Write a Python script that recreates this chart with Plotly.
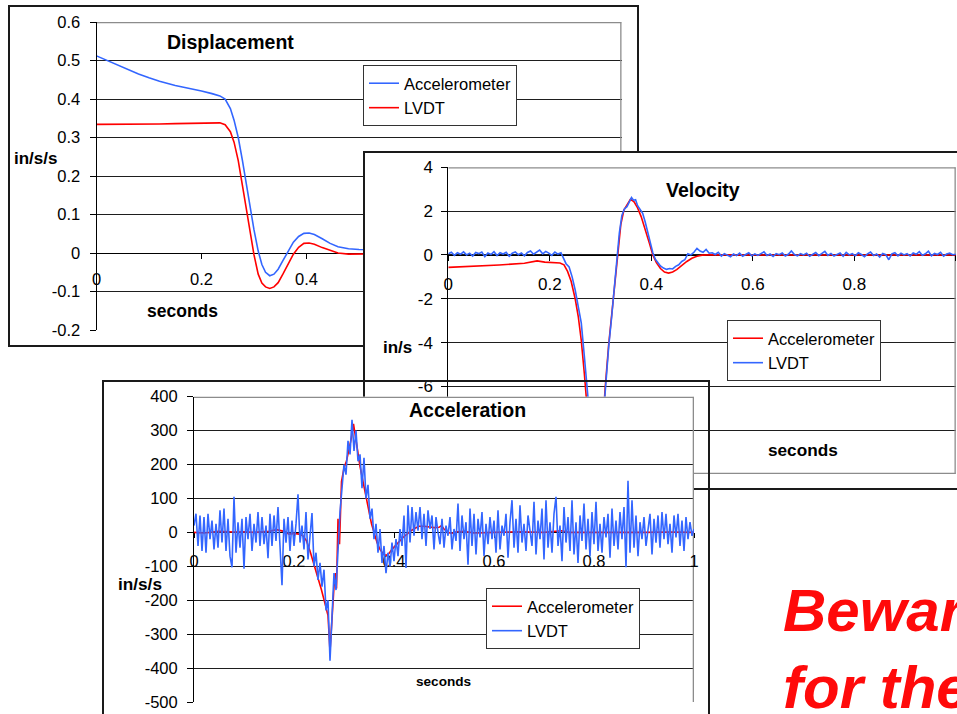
import plotly.graph_objects as go

W, H = 957, 714
FONT = "Liberation Sans, Arial, Helvetica, sans-serif"
RED = "#ff0000"
BLUE = "#3366ff"
GRID = "#1e1e1e"
FRAME = "#8c8c8c"
BOX = "#1a1a1a"

# ---------------- shared x ticks ----------------
x_ticks = [0, 0.2, 0.4, 0.6, 0.8, 1]
x_ticklabels = ["0", "0.2", "0.4", "0.6", "0.8", "1"]

# ---------------- Displacement panel ----------------
disp_t = [0, 0.02, 0.05, 0.08, 0.1, 0.12, 0.15, 0.18, 0.2, 0.22, 0.235, 0.245, 0.255,
          0.262, 0.27, 0.278, 0.285, 0.292, 0.3, 0.308, 0.315, 0.322, 0.33, 0.338, 0.346,
          0.355, 0.365, 0.375, 0.385, 0.395, 0.405, 0.415, 0.43, 0.445, 0.46, 0.48, 0.5,
          0.55, 0.6, 0.7, 0.8, 0.9, 1.0]
disp_accel = [0.512, 0.500, 0.482, 0.465, 0.455, 0.446, 0.435, 0.427, 0.421, 0.414, 0.408,
              0.400, 0.375, 0.345, 0.300, 0.240, 0.180, 0.120, 0.060, 0.005, -0.030, -0.050,
              -0.059, -0.055, -0.042, -0.020, 0.005, 0.028, 0.043, 0.051, 0.052, 0.048,
              0.037, 0.025, 0.016, 0.011, 0.009, 0.008, 0.008, 0.008, 0.008, 0.008, 0.008]
disp_lvdt = [0.334, 0.334, 0.334, 0.335, 0.335, 0.335, 0.336, 0.337, 0.338, 0.339, 0.338,
             0.333, 0.315, 0.288, 0.240, 0.175, 0.115, 0.055, -0.005, -0.055, -0.078, -0.088,
             -0.092, -0.088, -0.077, -0.055, -0.028, -0.003, 0.015, 0.025, 0.026, 0.023,
             0.014, 0.006, 0.000, -0.003, -0.003, -0.002, -0.001, 0.0, 0.0, 0.0, 0.0]
disp_range = [-0.2, 0.6]
disp_yticks = [0.6, 0.5, 0.4, 0.3, 0.2, 0.1, 0, -0.1, -0.2]
disp_yticklabels = ["0.6", "0.5", "0.4", "0.3", "0.2", "0.1", "0", "-0.1", "-0.2"]

# ---------------- Velocity panel ----------------
vel_accel_t = [0, 0.05, 0.1, 0.15, 0.175, 0.19, 0.22, 0.228, 0.235, 0.242, 0.25, 0.256, 0.262,
               0.268, 0.275, 0.282, 0.289, 0.296, 0.303, 0.309, 0.316, 0.322, 0.328, 0.334,
               0.34, 0.346, 0.352, 0.359, 0.366, 0.373, 0.38, 0.388, 0.396, 0.403, 0.41,
               0.418, 0.426, 0.434, 0.442, 0.45, 0.46, 0.47, 0.48, 0.49, 0.5, 0.52, 0.6,
               0.7, 0.8, 0.9, 1.0]
vel_accel = [-0.57, -0.52, -0.46, -0.38, -0.27, -0.33, -0.37, -0.45, -0.75, -1.2, -2.0, -2.8,
             -3.9, -5.4, -7.5, -9.4, -10.3, -9.8, -8.3, -6.1, -4.1, -2.7, -1.2, 0.2, 1.4,
             2.05, 2.3, 2.55, 2.42, 2.15, 1.75, 1.2, 0.55, 0.0, -0.35, -0.62, -0.78, -0.83,
             -0.78, -0.67, -0.48, -0.3, -0.15, -0.06, -0.01, 0.01, 0.0, 0.0, 0.01, 0.0, 0.0]

VEL_DT = 0.006
vel_lvdt_pre = [0.05, 0.12, -0.02, 0.10, 0.03, 0.14, 0.00, 0.08, -0.05, 0.11,
                0.06, 0.13, -0.08, 0.09, 0.02, 0.15, -0.03, 0.10, 0.04, 0.12,
                -0.06, 0.08, 0.14, 0.01, 0.09, -0.04, 0.11, 0.18, 0.03, 0.12,
                0.22, 0.05, 0.16, 0.08, -0.02, 0.13, 0.04, 0.10]
vel_lvdt_event_t = [0.226, 0.232, 0.238, 0.244, 0.25, 0.256, 0.262, 0.268, 0.274, 0.28,
                    0.287, 0.293, 0.299, 0.305, 0.31, 0.316, 0.322, 0.327, 0.332, 0.337,
                    0.342, 0.347, 0.352, 0.357, 0.361, 0.365, 0.369, 0.373, 0.378, 0.383,
                    0.388, 0.393, 0.398, 0.403, 0.408, 0.413, 0.418, 0.424, 0.43, 0.436,
                    0.442, 0.448, 0.454, 0.46, 0.466, 0.472, 0.478, 0.484, 0.49, 0.496,
                    0.502, 0.508, 0.514]
vel_lvdt_event = [-0.1, -0.4, -0.55, -1.0, -1.6, -2.4, -3.1, -4.6, -6.3, -8.0,
                  -9.6, -10.2, -9.5, -7.5, -5.8, -4.2, -2.8, -1.4, -0.2, 1.0,
                  1.8, 2.1, 2.2, 2.45, 2.62, 2.5, 2.52, 2.25, 2.1, 1.9,
                  1.5, 1.05, 0.55, 0.1, -0.2, -0.38, -0.5, -0.6, -0.66, -0.62,
                  -0.64, -0.52, -0.45, -0.3, -0.22, 0.05, 0.0, 0.12, 0.3, 0.18,
                  0.12, 0.25, 0.08]
VEL_POST_START = 0.52
vel_lvdt_post = [0.10, 0.02, 0.12, -0.05, 0.06, 0.00, -0.08, 0.04, -0.03, 0.08,
                 -0.06, 0.02, 0.10, -0.04, 0.05, -0.02, 0.07, 0.14, -0.03, 0.04,
                 -0.07, 0.06, 0.01, 0.09, -0.05, 0.03, 0.18, 0.02, -0.04, 0.06,
                 0.00, 0.08, -0.06, 0.04, 0.11, -0.03, 0.05, 0.16, -0.02, 0.07,
                 -0.05, 0.03, 0.09, -0.06, 0.12, 0.00, 0.06, -0.04, 0.10, 0.02,
                 -0.08, 0.05, 0.13, -0.03, 0.04, -0.10, 0.07, 0.01, -0.22, 0.05,
                 0.10, -0.04, 0.08, 0.00, 0.06, -0.05, 0.09, 0.03, 0.15, -0.02,
                 0.05, 0.17, -0.04, 0.07, 0.02, 0.12, -0.06, 0.04, 0.08, 0.01,
                 0.03]
vel_range = [-10, 4]
vel_yticks = [4, 2, 0, -2, -4, -6, -8, -10]
vel_yticklabels = ["4", "2", "0", "-2", "-4", "-6", "-8", "-10"]

# ---------------- Acceleration panel ----------------
acc_accel_t = [0, 0.02, 0.05, 0.08, 0.1, 0.12, 0.15, 0.165, 0.18, 0.19, 0.2, 0.21, 0.218,
               0.225, 0.232, 0.24, 0.248, 0.255, 0.262, 0.268, 0.272, 0.276, 0.28, 0.283,
               0.285, 0.288, 0.291, 0.295, 0.3, 0.305, 0.31, 0.315, 0.319, 0.322, 0.326,
               0.332, 0.338, 0.343, 0.349, 0.355, 0.36, 0.366, 0.372, 0.378, 0.384, 0.39,
               0.396, 0.402, 0.41, 0.418, 0.426, 0.434, 0.442, 0.45, 0.46, 0.47, 0.48, 0.49,
               0.495, 0.5, 0.508, 0.515, 0.525, 0.54, 0.56, 0.6, 0.65, 0.7, 0.735, 0.75,
               0.8, 0.85, 0.9, 0.95, 1.0]
acc_accel = [0, -2, 3, 1, 2, 0, 3, 8, 3, -5, -3, -5, -10, -25, -55, -95, -130, -170, -210,
             -245, -350, -240, -160, -120, -165, 40, -35, 150, 190, 210, 245, 280, 320, 290,
             250, 195, 150, 110, 65, 25, 0, -30, -50, -63, -68, -62, -50, -40, -30, -15, -5,
             5, 12, 18, 18, 16, 14, 15, 20, 10, 0, -3, 2, 3, -2, 0, 2, 0, 5, 0, 0, -2, 0, 1, 0]
ACC_DT = 0.004
acc_lvdt = [20, 55, -40, 50, -55, 45, -60, 55, -20, 35,
            -50, 25, -45, 65, -30, 70, -55, 40, -70, -103,
            105, -60, 30, -45, 40, -107, 45, -20, 55, -55,
            25, -30, 60, -40, 45, -35, 20, -76, 55, -40,
            50, -25, 75, -60, -156, 40, -30, 45, -55, 35,
            -40, 25, 112, -30, 20, -50, 60, -80, -20, 57,
            -100, -60, -140, -90, -160, -110, -230, -200, -378, -250,
            -120, -170, -40, 60, 130, 200, 170, 270, 230, 332,
            240, 300, 210, 230, 130, 220, 100, 140, 40, 70,
            -20, 25, -60, 10, -90, -40, -120, -60, -100, -30,
            -85, -20, -70, 10, -40, 50, -105, 80, -30, 75,
            -10, 60, 5, 75, -20, 55, -40, 65, 10, 50,
            -50, 45, 0, -35, 40, -45, 20, -10, 45, -50,
            10, -25, 85, -55, 50, -20, 30, -95, 70, -40,
            55, -65, 40, -15, 60, -70, 25, -35, 45, -20,
            35, -60, 65, -50, 20, -10, 55, -75, 30, 95,
            -45, 40, -60, 80, -30, 25, -55, 50, 5, -40,
            90, -65, 35, -20, 70, -80, 95, -45, 30, -60,
            55, 105, -40, 20, -85, 75, -30, 45, -55, 95,
            -65, 30, -90, 50, -25, 85, -50, 40, -70, 60,
            -35, 90, -55, 25, -60, 45, -15, 55, -75, 70,
            -40, 35, -50, 60, -20, 75, -103, 152, -60, 95,
            -45, 50, -70, 30, -20, 45, -40, 15, 55, -65,
            40, -30, 50, -45, 60, -20, 55, -35, 25, -60,
            50, -15, 55, -40, 35, -55, 45, -20, 30, -10,
            10]
acc_range = [-500, 400]
acc_yticks = [400, 300, 200, 100, 0, -100, -200, -300, -400, -500]
acc_yticklabels = ["400", "300", "200", "100", "0", "-100", "-200", "-300", "-400", "-500"]

# sampling grids for the sampled LVDT records
vel_lvdt_t = ([round(i * VEL_DT, 4) for i in range(len(vel_lvdt_pre))] + vel_lvdt_event_t +
              [round(VEL_POST_START + i * VEL_DT, 4) for i in range(len(vel_lvdt_post))])
vel_lvdt = vel_lvdt_pre + vel_lvdt_event + vel_lvdt_post
acc_lvdt_t = [round(i * ACC_DT, 4) for i in range(len(acc_lvdt))]


def fx(p):
    return p / W


def fy(p):
    return 1 - p / H


fig = go.Figure()


def box_trace(xa, ya):
    return go.Scatter(x=[None], y=[None], xaxis=xa, yaxis=ya, showlegend=False,
                      hoverinfo="skip", mode="lines")


LW = 1.6
# Panel 1
fig.add_trace(box_trace("x2", "y2"))
fig.add_trace(go.Scatter(x=disp_t, y=disp_accel, xaxis="x3", yaxis="y3", mode="lines",
                         name="Accelerometer", line=dict(color=BLUE, width=LW), legend="legend"))
fig.add_trace(go.Scatter(x=disp_t, y=disp_lvdt, xaxis="x3", yaxis="y3", mode="lines",
                         name="LVDT", line=dict(color=RED, width=LW), legend="legend"))
# Panel 2
fig.add_trace(box_trace("x4", "y4"))
fig.add_trace(go.Scatter(x=vel_accel_t, y=vel_accel, xaxis="x5", yaxis="y5", mode="lines",
                         name="Accelerometer", line=dict(color=RED, width=LW), legend="legend2"))
fig.add_trace(go.Scatter(x=vel_lvdt_t, y=vel_lvdt, xaxis="x5", yaxis="y5", mode="lines",
                         name="LVDT", line=dict(color=BLUE, width=LW), legend="legend2"))
# Panel 3
fig.add_trace(box_trace("x6", "y6"))
fig.add_trace(go.Scatter(x=acc_accel_t, y=acc_accel, xaxis="x7", yaxis="y7", mode="lines",
                         name="Accelerometer", line=dict(color=RED, width=LW), legend="legend3"))
fig.add_trace(go.Scatter(x=acc_lvdt_t, y=acc_lvdt, xaxis="x7", yaxis="y7", mode="lines",
                         name="LVDT", line=dict(color=BLUE, width=LW), legend="legend3"))

hidden = dict(showgrid=False, zeroline=False, showticklabels=False, ticks="",
              range=[0, 1], fixedrange=True, linecolor=BOX, linewidth=1.6)


def main_x(domain, anchor_y_px, size, standoff):
    return dict(domain=domain, anchor="free", position=fy(anchor_y_px), range=[0, 1],
                tickvals=x_ticks, ticktext=x_ticklabels, ticks="outside", ticklen=5,
                tickcolor="black", showline=True, linecolor="black", linewidth=1,
                showgrid=False, zeroline=False, layer="below traces",
                tickfont=dict(size=size, color="black", family=FONT),
                ticklabelstandoff=standoff, fixedrange=True)


def main_y(domain, anchor, rng, vals, labels, size, standoff):
    return dict(domain=domain, anchor=anchor, range=rng, tickvals=vals, ticktext=labels,
                ticks="outside", ticklen=6, tickcolor="black", showline=True,
                linecolor="black", linewidth=1, showgrid=True, gridcolor=GRID, gridwidth=1,
                zeroline=False, tickfont=dict(size=size, color="black", family=FONT),
                ticklabelstandoff=standoff, fixedrange=True)


layout = dict(
    width=W, height=H, margin=dict(l=0, r=0, t=0, b=0, pad=0, autoexpand=False),
    paper_bgcolor="white", plot_bgcolor="white", hovermode=False,
    font=dict(family=FONT, color="black"),
    # panel 1
    xaxis2=dict(domain=[fx(10), fx(637)], anchor="y2", showline=True, mirror=True, **hidden),
    yaxis2=dict(domain=[fy(345), fy(7)], anchor="x2", showline=True, mirror=True, **hidden),
    xaxis3=main_x([fx(96.5), fx(621.5)], 253.3, 16.5, 6),
    yaxis3=main_y([fy(330), fy(22)], "x3", disp_range, disp_yticks, disp_yticklabels, 16.5, 6),
    # panel 2
    xaxis4=dict(domain=[fx(365), 1], anchor="y4", showline=True, mirror=True, **hidden),
    yaxis4=dict(domain=[fy(488), fy(153)], anchor="x4", showline=True, mirror=False, **hidden),
    xaxis5=main_x([fx(448.3), fx(955.8)], 255.3, 17, 8),
    yaxis5=main_y([fy(474), fy(167.3)], "x5", vel_range, vel_yticks, vel_yticklabels, 17, 5),
    # panel 3
    xaxis6=dict(domain=[fx(104), fx(708)], anchor="y6", side="top", showline=True,
                mirror=False, **hidden),
    yaxis6=dict(domain=[0, fy(382)], anchor="x6", showline=True, mirror=True, **hidden),
    xaxis7=main_x([fx(194), fx(694)], 532.3, 16.5, 9),
    yaxis7=main_y([fy(702), fy(396.7)], "x7", acc_range, acc_yticks, acc_yticklabels, 16.5, 6),
)


def legend_at(xp, yp):
    return dict(x=fx(xp), y=fy(yp), xanchor="left", yanchor="top", bgcolor="white",
                bordercolor="#333333", borderwidth=1, itemwidth=30, tracegroupgap=0,
                traceorder="normal", font=dict(size=16.5, color="black", family=FONT))


layout["legend"] = legend_at(363, 65)
layout["legend2"] = legend_at(727, 320)
layout["legend3"] = legend_at(486, 588)
fig.update_layout(**layout)

# gray plot-area frame lines (top / right, and bottom for velocity)
frames = [("x3", "y3", disp_range, ["top", "right"]),
          ("x5", "y5", vel_range, ["top", "right", "bottom"]),
          ("x7", "y7", acc_range, ["top", "right"])]
for xa, ya, rng, sides in frames:
    for s in sides:
        if s == "top":
            c = (0, rng[1], 1, rng[1])
        elif s == "right":
            c = (1, rng[0], 1, rng[1])
        else:
            c = (0, rng[0], 1, rng[0])
        fig.add_shape(type="line", xref=xa, yref=ya, x0=c[0], y0=c[1], x1=c[2], y1=c[3],
                      layer="between", line=dict(color=FRAME, width=2.6))


def label(text, xp, yp, size, bold=True, color="black"):
    fig.add_annotation(text=("<b>%s</b>" % text) if bold else text, x=fx(xp), y=fy(yp),
                       xref="paper", yref="paper", showarrow=False, xanchor="center",
                       yanchor="middle", font=dict(size=size, color=color, family=FONT))


label("Displacement", 230, 42, 19.5)
label("in/s/s", 35, 158, 17)
label("seconds", 182, 311, 17.5)
label("Velocity", 703, 190, 19.5)
label("in/s", 397, 347, 17)
label("seconds", 803, 450, 17.2)
label("Acceleration", 467, 410, 19.5)
label("in/s/s", 140, 584, 17.2)
label("seconds", 443, 681, 13.6)

for txt, yp in [("Beware", 610), ("for the", 687)]:
    fig.add_annotation(text="<b><i>%s</i></b>" % txt, x=fx(781), y=fy(yp), xref="paper",
                       yref="paper", showarrow=False, xanchor="left", yanchor="middle",
                       font=dict(size=60, color="#ff0a0a", family=FONT))

fig.write_html("out.html")
